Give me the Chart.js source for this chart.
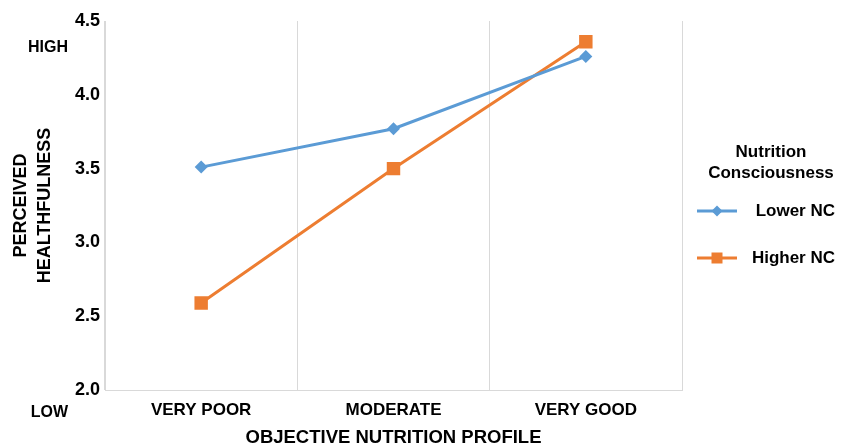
<!DOCTYPE html>
<html>
<head>
<meta charset="utf-8">
<script src="https://cdn.jsdelivr.net/npm/chart.js@4/dist/chart.umd.min.js"></script>
<style>
  html, body { margin: 0; padding: 0; background: #fff; }
  #wrap { width: 851px; height: 448px; position: relative; }
</style>
</head>
<body>
<div id="wrap"><canvas id="graficoNutricao"></canvas></div>
<script>
// Data
const categories = ['VERY POOR', 'MODERATE', 'VERY GOOD'];
const lowerNC = [3.51, 3.77, 4.26];
const higherNC = [2.59, 3.50, 4.36];
const seriesNames = ['Lower NC', 'Higher NC'];
const legendTitle = ['Nutrition', 'Consciousness'];
const yTitle = ['PERCEIVED', 'HEALTHFULNESS'];
const xTitle = 'OBJECTIVE NUTRITION PROFILE';
const endLabels = ['HIGH', 'LOW'];

const FONT = '"Liberation Sans", Arial, Helvetica, sans-serif';
const BLUE = '#5b9bd5';
const ORANGE = '#ed7d31';
const GRID = '#d9d9d9';

// Extra texts (HIGH / LOW) and the legend on the right
const extrasPlugin = {
    id: 'extras',
    afterDraw(chart) {
        const ctx = chart.ctx;
        const area = chart.chartArea;
        ctx.save();
        ctx.fillStyle = '#000';
        ctx.textBaseline = 'middle';

        // HIGH / LOW next to the y axis
        ctx.font = 'bold 16px ' + FONT;
        ctx.textAlign = 'right';
        ctx.fillText(endLabels[0], 68, area.top + 27);
        ctx.fillText(endLabels[1], 68, area.bottom + 23);

        // legend title
        const cx = area.right + 89;
        ctx.font = 'bold 17px ' + FONT;
        ctx.textAlign = 'center';
        ctx.fillText(legendTitle[0], cx, 152);
        ctx.fillText(legendTitle[1], cx, 173);

        // legend items
        const itemsY = [211, 258];
        const datasets = chart.data.datasets;
        for (let i = 0; i < datasets.length; i++) {
            const ds = datasets[i];
            const y = itemsY[i];
            const x0 = area.right + 15;
            const x1 = area.right + 55;
            const xm = (x0 + x1) / 2;
            ctx.strokeStyle = ds.borderColor;
            ctx.lineWidth = 3;
            ctx.beginPath();
            ctx.moveTo(x0, y);
            ctx.lineTo(x1, y);
            ctx.stroke();
            ctx.fillStyle = ds.borderColor;
            ctx.beginPath();
            if (ds.pointStyle === 'rectRot') {
                ctx.moveTo(xm - 5.5, y);
                ctx.lineTo(xm, y - 5.5);
                ctx.lineTo(xm + 5.5, y);
                ctx.lineTo(xm, y + 5.5);
                ctx.closePath();
            } else {
                ctx.rect(xm - 5.5, y - 5.5, 11, 11);
            }
            ctx.fill();
            ctx.fillStyle = '#000';
            ctx.textAlign = 'right';
            ctx.fillText(ds.label, area.right + 153, y);
        }
        ctx.restore();
    }
};

const config = {
    type: 'line',
    data: {
        labels: categories,
        datasets: [{
            label: seriesNames[0],
            data: lowerNC,
            borderColor: BLUE,
            backgroundColor: BLUE,
            borderWidth: 3,
            pointStyle: 'rectRot',
            pointRadius: 6.5,
            pointBorderWidth: 0,
            tension: 0
        }, {
            label: seriesNames[1],
            data: higherNC,
            borderColor: ORANGE,
            backgroundColor: ORANGE,
            borderWidth: 3,
            pointStyle: 'rect',
            pointRadius: 9.5,
            pointBorderWidth: 0,
            tension: 0
        }]
    },
    options: {
        responsive: true,
        maintainAspectRatio: false,
        animation: false,
        events: [],
        layout: { padding: { top: 21, right: 169, left: 0, bottom: 0 } },
        plugins: {
            legend: { display: false },
            tooltip: { enabled: false }
        },
        scales: {
            x: {
                offset: true,
                grid: { display: true, offset: true, color: GRID, lineWidth: 1, drawTicks: false },
                border: { display: true, color: GRID, width: 1 },
                ticks: { color: '#000', padding: 10, font: { family: FONT, size: 17, weight: 'bold' } },
                title: {
                    display: true,
                    text: xTitle,
                    color: '#000',
                    padding: { top: 0, bottom: 0 },
                    font: { family: FONT, size: 18.5, weight: 'bold', lineHeight: 1.1 }
                },
                afterFit(scale) { scale.height = 58; }
            },
            y: {
                min: 2.0,
                max: 4.5,
                grid: { display: false, drawTicks: false },
                border: { display: true, color: GRID, width: 1 },
                ticks: {
                    stepSize: 0.5,
                    color: '#000',
                    padding: 5,
                    font: { family: FONT, size: 18, weight: 'bold' },
                    callback: function (v) { return Number(v).toFixed(1); }
                },
                title: {
                    display: true,
                    text: yTitle,
                    color: '#000',
                    padding: { top: 9, bottom: 0 },
                    font: { family: FONT, size: 18, weight: 'bold', lineHeight: 1.33 }
                },
                afterFit(scale) { scale.width = 105; }
            }
        }
    },
    plugins: [extrasPlugin]
};

new Chart(document.getElementById('graficoNutricao'), config);
</script>
</body>
</html>
